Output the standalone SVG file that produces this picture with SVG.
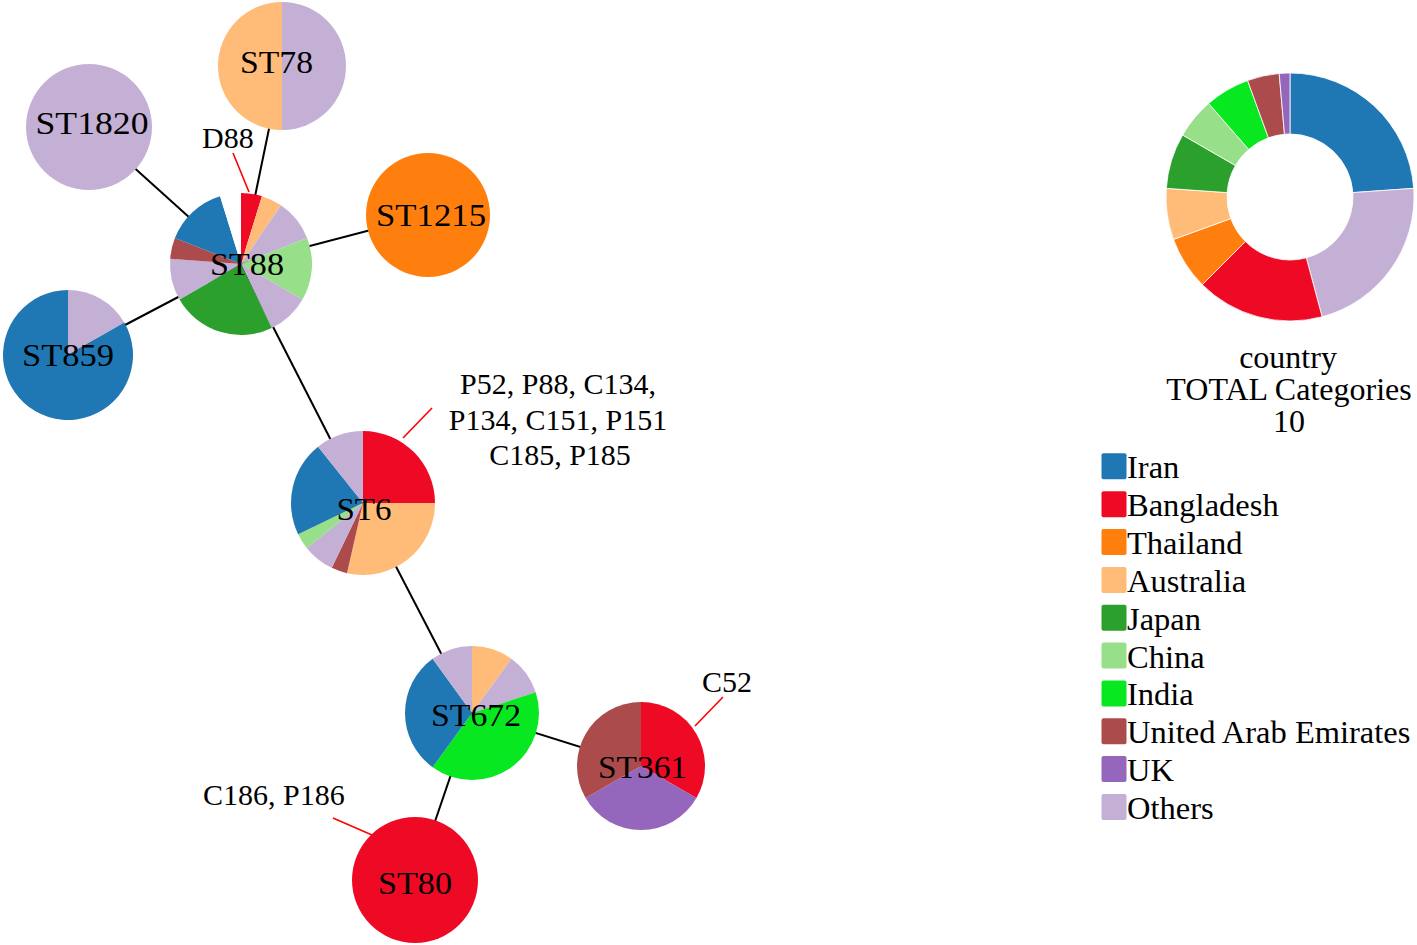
<svg xmlns="http://www.w3.org/2000/svg" width="1417" height="945" viewBox="0 0 1417 945">
<style>
.iran{fill:#1f77b4}.bang{fill:#ee0a24}.thai{fill:#ff7f0e}.aus{fill:#ffbb78}.jap{fill:#2ca02c}.chi{fill:#98df8a}.ind{fill:#08e820}.uae{fill:#ab4b4b}.uk{fill:#9467bd}.oth{fill:#c5b0d5}.wht{fill:#ffffff}
.edge{stroke:#000;stroke-width:2;fill:none}
.ann{stroke:#ff0000;stroke-width:1.6;fill:none}
.lbl{font-family:"Liberation Serif","Times New Roman",serif;font-size:32px;fill:#000;text-anchor:middle}
.txt{font-family:"Liberation Serif","Times New Roman",serif;font-size:30px;fill:#000}
.leg{font-family:"Liberation Serif","Times New Roman",serif;font-size:32.5px;fill:#000}
.ttl{font-family:"Liberation Serif","Times New Roman",serif;font-size:32px;fill:#000;text-anchor:middle}
.dn path{stroke:#ffffff;stroke-width:0.8}
</style>
<rect width="1417" height="945" fill="#ffffff"/>
<g id="connectors">
<line class="edge" x1="282" y1="66" x2="241" y2="264"/>
<line class="edge" x1="89" y1="127" x2="241" y2="264"/>
<line class="edge" x1="428" y1="215" x2="241" y2="264"/>
<line class="edge" x1="68" y1="355" x2="241" y2="264"/>
<line class="edge" x1="241" y1="264" x2="363" y2="503"/>
<line class="edge" x1="363" y1="503" x2="472" y2="713"/>
<line class="edge" x1="472" y1="713" x2="641" y2="766"/>
<line class="edge" x1="472" y1="713" x2="415" y2="880"/>
<line class="ann" x1="233" y1="153" x2="249" y2="192"/>
<line class="ann" x1="432" y1="408" x2="403" y2="438"/>
<line class="ann" x1="723" y1="697" x2="695" y2="726"/>
<line class="ann" x1="333" y1="818" x2="372" y2="835"/>
</g>
<g id="node-ST78">
<path class="aus" d="M282,66 L282,2 A64,64 0 0 0 282,130 Z"/>
<path class="oth" d="M282,66 L282,2 A64,64 0 0 1 282,130 Z"/>
<text class="lbl" x="276.5" y="73" textLength="73" lengthAdjust="spacingAndGlyphs">ST78</text>
</g>
<g id="node-ST1820">
<circle class="oth" cx="89" cy="127" r="63"/>
<text class="lbl" x="92" y="134" textLength="113" lengthAdjust="spacingAndGlyphs">ST1820</text>
</g>
<g id="node-ST1215">
<circle class="thai" cx="428" cy="215" r="62"/>
<text class="lbl" x="431" y="226" textLength="110" lengthAdjust="spacingAndGlyphs">ST1215</text>
</g>
<g id="node-ST859">
<path class="oth" d="M68,355 L68,290 A65,65 0 0 1 124.3,322.5 Z"/>
<path class="iran" d="M68,355 L124.3,322.5 A65,65 0 1 1 68,290 Z"/>
<text class="lbl" x="68" y="366" textLength="92" lengthAdjust="spacingAndGlyphs">ST859</text>
</g>
<g id="node-ST88">
<path class="bang" d="M241,264 L241,193 A71,71 0 0 1 261.93,196.15 Z"/>
<path class="aus" d="M241,264 L261.93,196.15 A71,71 0 0 1 281,205.34 Z"/>
<path class="oth" d="M241,264 L281,205.34 A71,71 0 0 1 307.09,238.06 Z"/>
<path class="chi" d="M241,264 L307.09,238.06 A71,71 0 0 1 302.49,299.5 Z"/>
<path class="oth" d="M241,264 L302.49,299.5 A71,71 0 0 1 271.81,327.97 Z"/>
<path class="jap" d="M241,264 L271.81,327.97 A71,71 0 0 1 179.51,299.5 Z"/>
<path class="oth" d="M241,264 L179.51,299.5 A71,71 0 0 1 170.2,258.7 Z"/>
<path class="uae" d="M241,264 L170.2,258.7 A71,71 0 0 1 174.91,238.06 Z"/>
<path class="iran" d="M241,264 L174.91,238.06 A71,71 0 0 1 220.07,196.15 Z"/>
<path class="wht" d="M241,264 L220.07,196.15 A71,71 0 0 1 241,193 Z"/>
<text class="lbl" x="247" y="275" textLength="74" lengthAdjust="spacingAndGlyphs">ST88</text>
</g>
<g id="node-ST6">
<path class="bang" d="M363,503 L363,431 A72,72 0 0 1 435,503 Z"/>
<path class="aus" d="M363,503 L435,503 A72,72 0 0 1 346.98,573.19 Z"/>
<path class="uae" d="M363,503 L346.98,573.19 A72,72 0 0 1 331.76,567.87 Z"/>
<path class="oth" d="M363,503 L331.76,567.87 A72,72 0 0 1 306.71,547.89 Z"/>
<path class="chi" d="M363,503 L306.71,547.89 A72,72 0 0 1 298.13,534.24 Z"/>
<path class="iran" d="M363,503 L298.13,534.24 A72,72 0 0 1 318.11,446.71 Z"/>
<path class="oth" d="M363,503 L318.11,446.71 A72,72 0 0 1 363,431 Z"/>
<text class="lbl" x="364" y="520" textLength="55" lengthAdjust="spacingAndGlyphs">ST6</text>
</g>
<g id="node-ST672">
<path class="aus" d="M472,713 L472,646 A67,67 0 0 1 511.38,658.8 Z"/>
<path class="oth" d="M472,713 L511.38,658.8 A67,67 0 0 1 535.72,692.3 Z"/>
<path class="ind" d="M472,713 L535.72,692.3 A67,67 0 0 1 432.62,767.2 Z"/>
<path class="iran" d="M472,713 L432.62,767.2 A67,67 0 0 1 432.62,658.8 Z"/>
<path class="oth" d="M472,713 L432.62,658.8 A67,67 0 0 1 472,646 Z"/>
<text class="lbl" x="476" y="726" textLength="90" lengthAdjust="spacingAndGlyphs">ST672</text>
</g>
<g id="node-ST361">
<path class="bang" d="M641,766 L641,702 A64,64 0 0 1 696.43,798 Z"/>
<path class="uk" d="M641,766 L696.43,798 A64,64 0 0 1 585.57,798 Z"/>
<path class="uae" d="M641,766 L585.57,798 A64,64 0 0 1 641,702 Z"/>
<text class="lbl" x="642.5" y="778" textLength="89" lengthAdjust="spacingAndGlyphs">ST361</text>
</g>
<g id="node-ST80">
<circle class="bang" cx="415" cy="880" r="63"/>
<text class="lbl" x="415" y="894" textLength="74" lengthAdjust="spacingAndGlyphs">ST80</text>
</g>
<g id="annotations">
<text class="txt" x="202" y="148">D88</text>
<text class="txt" x="558" y="394" text-anchor="middle">P52, P88, C134,</text>
<text class="txt" x="558" y="430" text-anchor="middle">P134, C151, P151</text>
<text class="txt" x="560" y="465" text-anchor="middle">C185, P185</text>
<text class="txt" x="702" y="692">C52</text>
<text class="txt" x="203" y="805">C186, P186</text>
</g>
<g id="donut" class="dn">
<path class="iran" d="M1290,73 A124,124 0 0 1 1413.7,188.35 L1352.85,192.6 A63,63 0 0 0 1290,134 Z"/>
<path class="oth" d="M1413.7,188.35 A124,124 0 0 1 1322.09,316.77 L1306.3,257.85 A63,63 0 0 0 1352.85,192.6 Z"/>
<path class="bang" d="M1322.09,316.77 A124,124 0 0 1 1202.32,284.68 L1245.45,241.55 A63,63 0 0 0 1306.3,257.85 Z"/>
<path class="thai" d="M1202.32,284.68 A124,124 0 0 1 1173.48,239.41 L1230.8,218.55 A63,63 0 0 0 1245.45,241.55 Z"/>
<path class="aus" d="M1173.48,239.41 A124,124 0 0 1 1166.3,188.35 L1227.15,192.6 A63,63 0 0 0 1230.8,218.55 Z"/>
<path class="jap" d="M1166.3,188.35 A124,124 0 0 1 1182.61,135 L1235.44,165.5 A63,63 0 0 0 1227.15,192.6 Z"/>
<path class="chi" d="M1182.61,135 A124,124 0 0 1 1208.64,103.42 L1248.67,149.45 A63,63 0 0 0 1235.44,165.5 Z"/>
<path class="ind" d="M1208.64,103.42 A124,124 0 0 1 1247.59,80.48 L1268.45,137.8 A63,63 0 0 0 1248.67,149.45 Z"/>
<path class="uae" d="M1247.59,80.48 A124,124 0 0 1 1279.19,73.47 L1284.51,134.24 A63,63 0 0 0 1268.45,137.8 Z"/>
<path class="uk" d="M1279.19,73.47 A124,124 0 0 1 1290,73 L1290,134 A63,63 0 0 0 1284.51,134.24 Z"/>
</g>
<g id="legend-title">
<text class="ttl" x="1288" y="368">country</text>
<text class="ttl" x="1289" y="400">TOTAL Categories</text>
<text class="ttl" x="1289" y="432">10</text>
</g>
<g id="legend">
<rect class="iran" x="1101.5" y="453.3" width="25" height="26" rx="2"/>
<text class="leg" x="1127" y="478.3">Iran</text>
<rect class="bang" x="1101.5" y="491.2" width="25" height="26" rx="2"/>
<text class="leg" x="1127" y="516.2">Bangladesh</text>
<rect class="thai" x="1101.5" y="529" width="25" height="26" rx="2"/>
<text class="leg" x="1127" y="554">Thailand</text>
<rect class="aus" x="1101.5" y="566.9" width="25" height="26" rx="2"/>
<text class="leg" x="1127" y="591.9">Australia</text>
<rect class="jap" x="1101.5" y="604.7" width="25" height="26" rx="2"/>
<text class="leg" x="1127" y="629.7">Japan</text>
<rect class="chi" x="1101.5" y="642.6" width="25" height="26" rx="2"/>
<text class="leg" x="1127" y="667.6">China</text>
<rect class="ind" x="1101.5" y="680.4" width="25" height="26" rx="2"/>
<text class="leg" x="1127" y="705.4">India</text>
<rect class="uae" x="1101.5" y="718.3" width="25" height="26" rx="2"/>
<text class="leg" x="1127" y="743.3">United Arab Emirates</text>
<rect class="uk" x="1101.5" y="756.1" width="25" height="26" rx="2"/>
<text class="leg" x="1127" y="781.1">UK</text>
<rect class="oth" x="1101.5" y="794" width="25" height="26" rx="2"/>
<text class="leg" x="1127" y="819">Others</text>
</g>
</svg>
